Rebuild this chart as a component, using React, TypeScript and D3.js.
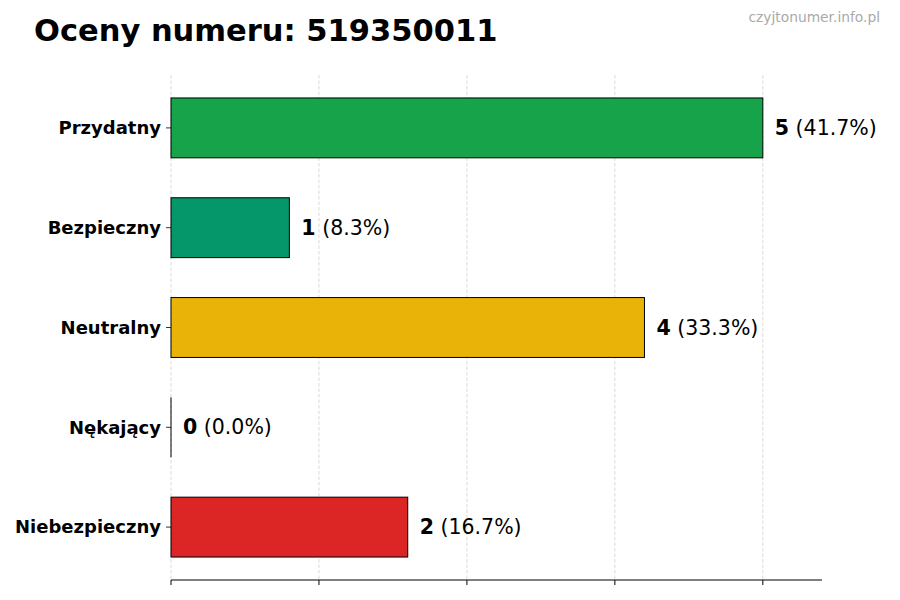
import React from "react";
import * as d3 from "d3";

const categories = ["Przydatny", "Bezpieczny", "Neutralny", "Nękający", "Niebezpieczny"];
const counts = [5, 1, 4, 0, 2];
const percents = ["41.7%", "8.3%", "33.3%", "0.0%", "16.7%"];
const colors = ["#16a34a", "#059669", "#eab308", "#ea580c", "#dc2626"];
const xTicks = [0, 1.25, 2.5, 3.75, 5];
const title = "Oceny numeru: 519350011";
const watermark = "czyjtonumer.info.pl";

export default function App() {
  const W = 900, H = 600;
  const left = 171, right = 822, top = 75, bottom = 580;
  const x = d3.scaleLinear().domain([0, 5.5]).range([left, right]);
  // index 0 at top
  const y = d3.scaleLinear().domain([-0.53, 4.53]).range([top, bottom]);
  const barH = y(0.3) - y(-0.3);
  const font = "DejaVu Sans, sans-serif";
  return (
    <svg width={W} height={H} style={{ position: "absolute", left: 0, top: 0, background: "#fff" }}>
      <text x={34} y={41} fontFamily={font} fontWeight="bold" fontSize={30.5} fill="#000">{title}</text>
      <text x={880} y={22} textAnchor="end" fontFamily={font} fontSize={13.8} fill="#aaaaaa">{watermark}</text>
      {xTicks.map((t, i) => (
        <line key={"g" + i} x1={x(t)} x2={x(t)} y1={top} y2={bottom} stroke="#d0d0d0" strokeWidth={0.8} strokeDasharray="3.5,2" />
      ))}
      {categories.map((c, i) => (
        <g key={c}>
          <rect x={x(0)} y={y(i) - barH / 2} width={x(counts[i]) - x(0)} height={barH} fill={colors[i]} stroke="#000" strokeWidth={1} />
          {counts[i] === 0 && (
            <line x1={x(0)} x2={x(0)} y1={y(i) - barH / 2} y2={y(i) + barH / 2} stroke="#000" strokeWidth={1} />
          )}
          <line x1={x(0) - 5} x2={x(0)} y1={y(i)} y2={y(i)} stroke="#000" strokeWidth={0.8} />
          <text x={x(0) - 10} y={y(i)} dy="0.35em" textAnchor="end" fontFamily={font} fontWeight="bold" fontSize={18} fill="#000">{c}</text>
          <text x={x(counts[i]) + 12} y={y(i)} dy="0.35em" fontFamily={font} fontSize={20.5} fill="#000">
            <tspan fontWeight="bold">{counts[i]}</tspan>
            <tspan>{" (" + percents[i] + ")"}</tspan>
          </text>
        </g>
      ))}
      <line x1={left} x2={right} y1={bottom} y2={bottom} stroke="#000" strokeWidth={1} />
      {xTicks.map((t, i) => (
        <line key={"t" + i} x1={x(t)} x2={x(t)} y1={bottom} y2={bottom + 5} stroke="#000" strokeWidth={1} />
      ))}
    </svg>
  );
}
